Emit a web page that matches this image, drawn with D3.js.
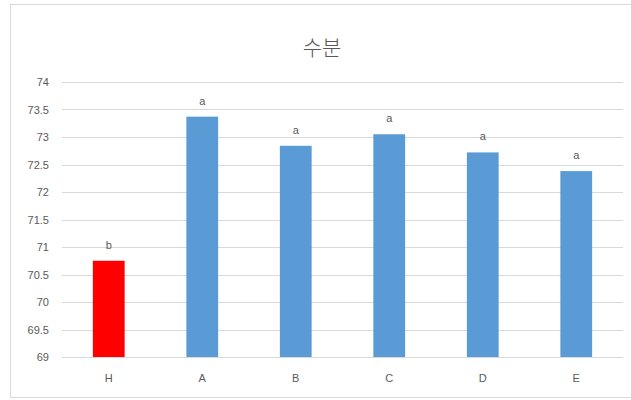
<!DOCTYPE html>
<html lang="ko">
<head>
<meta charset="utf-8">
<title>수분</title>
<script src="https://d3js.org/d3.v7.min.js"></script>
<style>
  html, body { margin: 0; padding: 0; background: #fff; }
  text { font-family: "Noto Sans CJK KR", "Liberation Sans", Arial, sans-serif; fill: #595959; }
  .grid line { stroke: #d9d9d9; stroke-width: 1px; shape-rendering: crispEdges; }
  .axis path, .axis line { display: none; }
</style>
</head>
<body>
<script>
var categories = ["H", "A", "B", "C", "D", "E"];
var values = [70.75, 73.37, 72.84, 73.05, 72.72, 72.38];
var letters = ["b", "a", "a", "a", "a", "a"];
var yTicks = [69, 69.5, 70, 70.5, 71, 71.5, 72, 72.5, 73, 73.5, 74];
var chartTitle = "수분";

var W = 631, H = 400;
var plot = { left: 62, right: 623, top: 82, bottom: 357 };

var svg = d3.select("body").append("svg").attr("width", W).attr("height", H);

// chart frame
svg.append("rect")
  .attr("x", 10.5).attr("y", 4.5)
  .attr("width", 630).attr("height", 393)
  .attr("fill", "#fff").attr("stroke", "#d9d9d9");

var x = d3.scaleBand()
  .domain(categories)
  .range([plot.left, plot.right])
  .paddingInner(0.66)
  .paddingOuter(0.33);

var y = d3.scaleLinear()
  .domain([69, 74])
  .range([plot.bottom, plot.top]);

// gridlines
svg.append("g").attr("class", "grid")
  .selectAll("line").data(yTicks).join("line")
  .attr("x1", plot.left).attr("x2", plot.right)
  .attr("y1", function(d) { return Math.round(y(d)) + 0.5; })
  .attr("y2", function(d) { return Math.round(y(d)) + 0.5; });

// y axis labels
svg.append("g").attr("class", "axis y")
  .attr("transform", "translate(" + (plot.left - 5) + ",0)")
  .call(d3.axisLeft(y).tickValues(yTicks).tickSize(0).tickPadding(8)
    .tickFormat(function(d) { return d3.format("~g")(d); }))
  .selectAll("text")
  .style("font-size", "11px")
  .style("font-family", "\"Liberation Sans\", Arial, sans-serif")
  .attr("fill", "#595959");

// x axis labels
svg.append("g").attr("class", "axis x")
  .attr("transform", "translate(0," + plot.bottom + ")")
  .call(d3.axisBottom(x).tickSize(0).tickPadding(17))
  .selectAll("text")
  .style("font-size", "11px")
  .style("font-family", "\"Liberation Sans\", Arial, sans-serif")
  .attr("fill", "#595959");

var data = categories.map(function(c, i) { return { cat: c, val: values[i], lab: letters[i] }; });

// bars
svg.append("g").selectAll("rect").data(data).join("rect")
  .attr("x", function(d) { return x(d.cat); })
  .attr("width", x.bandwidth())
  .attr("y", function(d) { return y(d.val); })
  .attr("height", function(d) { return y(69) - y(d.val); })
  .attr("fill", function(d, i) { return i === 0 ? "#ff0000" : "#5b9bd5"; });

// significance letters
svg.append("g").selectAll("text").data(data).join("text")
  .attr("x", function(d) { return x(d.cat) + x.bandwidth() / 2; })
  .attr("y", function(d) { return y(d.val) - 12; })
  .attr("text-anchor", "middle")
  .style("font-size", "11px")
  .style("font-family", "\"Liberation Sans\", Arial, sans-serif")
  .text(function(d) { return d.lab; });

// title
svg.append("text")
  .attr("x", 322).attr("y", 55)
  .attr("text-anchor", "middle")
  .style("font-size", "21px")
  .style("font-weight", "300")
  .text(chartTitle);
</script>
</body>
</html>
